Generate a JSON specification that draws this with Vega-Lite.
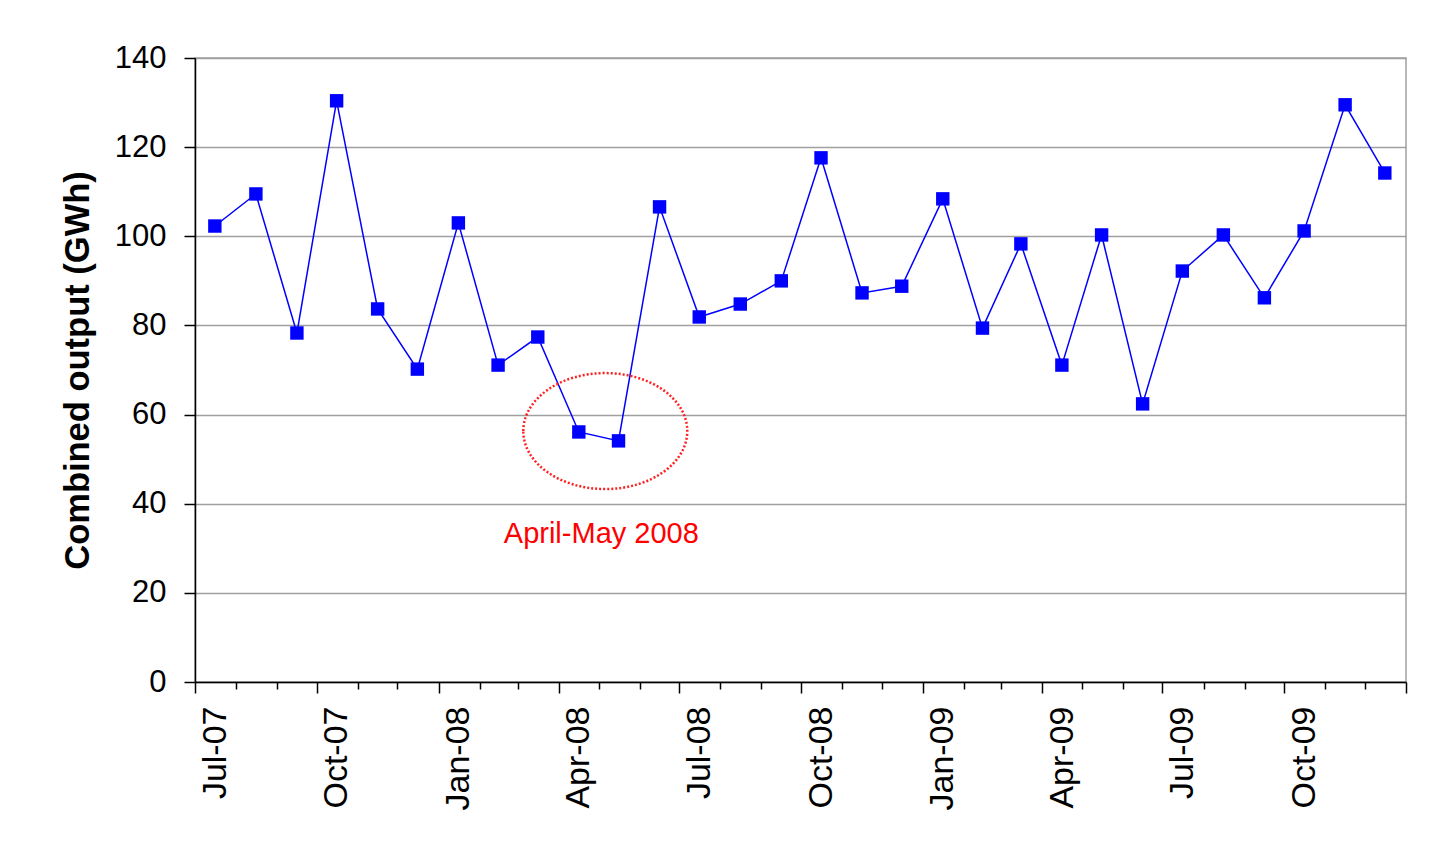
{
  "$schema": "https://vega.github.io/schema/vega-lite/v6.json",
  "width": 1211,
  "height": 624,
  "autosize": {"type": "none"},
  "padding": {"left": 195, "top": 58, "right": 37, "bottom": 166},
  "background": "white",
  "config": {
    "font": "Liberation Sans",
    "view": {"stroke": "#a0a0a0", "strokeWidth": 1.5},
    "axis": {
      "labelFont": "Liberation Sans",
      "titleFont": "Liberation Sans",
      "labelColor": "black",
      "titleColor": "black",
      "domainColor": "black",
      "tickColor": "black",
      "domainWidth": 1.5,
      "tickWidth": 1.5,
      "gridColor": "#a0a0a0",
      "gridWidth": 1.5
    }
  },
  "layer": [
    {
      "data": {
        "values": [
          {"date": "2007-07-16", "value": 102.3},
          {"date": "2007-08-16", "value": 109.5},
          {"date": "2007-09-16", "value": 78.3},
          {"date": "2007-10-16", "value": 130.4},
          {"date": "2007-11-16", "value": 83.7},
          {"date": "2007-12-16", "value": 70.2},
          {"date": "2008-01-16", "value": 103.0},
          {"date": "2008-02-15", "value": 71.1},
          {"date": "2008-03-16", "value": 77.4},
          {"date": "2008-04-16", "value": 56.1},
          {"date": "2008-05-16", "value": 54.1},
          {"date": "2008-06-16", "value": 106.6},
          {"date": "2008-07-16", "value": 81.9},
          {"date": "2008-08-16", "value": 84.8},
          {"date": "2008-09-16", "value": 90.0},
          {"date": "2008-10-16", "value": 117.6},
          {"date": "2008-11-16", "value": 87.3},
          {"date": "2008-12-16", "value": 88.8},
          {"date": "2009-01-16", "value": 108.4},
          {"date": "2009-02-15", "value": 79.4},
          {"date": "2009-03-16", "value": 98.3},
          {"date": "2009-04-16", "value": 71.1},
          {"date": "2009-05-16", "value": 100.3},
          {"date": "2009-06-16", "value": 62.4},
          {"date": "2009-07-16", "value": 92.2},
          {"date": "2009-08-16", "value": 100.3},
          {"date": "2009-09-16", "value": 86.2},
          {"date": "2009-10-16", "value": 101.2},
          {"date": "2009-11-16", "value": 129.5},
          {"date": "2009-12-16", "value": 114.2}
        ]
      },
      "mark": {
        "type": "line",
        "color": "#0000ff",
        "strokeWidth": 1.5,
        "point": {"shape": "square", "size": 180, "filled": true, "color": "#0000ff", "opacity": 1}
      },
      "encoding": {
        "x": {
          "field": "date",
          "type": "temporal",
          "scale": {
            "type": "utc",
            "domain": [
              {"year": 2007, "month": 7, "date": 1, "utc": true},
              {"year": 2010, "month": 1, "date": 1, "utc": true}
            ]
          },
          "axis": {
            "title": null,
            "grid": false,
            "tickCount": {"interval": "month", "step": 1},
            "labelExpr": "utcmonth(datum.value) % 3 == 0 && utcyear(datum.value) < 2010 ? utcFormat(datum.value, '%b-%y') : ''",
            "labelAngle": -90,
            "labelOffset": 20,
            "labelFontSize": 34,
            "labelOverlap": false,
            "labelFlush": false,
            "labelBound": false,
            "labelPadding": 13,
            "tickSize": {"condition": {"test": "utcmonth(datum.value) % 3 == 0", "value": 11}, "value": 7}
          }
        },
        "y": {
          "field": "value",
          "type": "quantitative",
          "scale": {"domain": [0, 140], "nice": false},
          "axis": {
            "title": "Combined output (GWh)",
            "titleFontSize": 34.5,
            "titleFontWeight": "bold",
            "titlePadding": 19,
            "values": [0, 20, 40, 60, 80, 100, 120, 140],
            "labelFontSize": 31,
            "tickSize": 11,
            "labelPadding": 18,
            "grid": true
          }
        }
      }
    },
    {
      "data": {"values": [{"date": "2008-05-06", "value": 56.3}]},
      "mark": {
        "type": "point",
        "shape": "M -1 0 A 1 0.707 0 1 1 1 0 A 1 0.707 0 1 1 -1 0 Z",
        "size": 26896,
        "filled": false,
        "stroke": "#ff2020",
        "strokeWidth": 2.5,
        "strokeDash": [2, 2],
        "opacity": 1
      },
      "encoding": {
        "x": {"field": "date", "type": "temporal"},
        "y": {"field": "value", "type": "quantitative"}
      }
    },
    {
      "data": {"values": [{"date": "2008-05-03", "value": 33.2, "label": "April-May 2008"}]},
      "mark": {
        "type": "text",
        "color": "#ff0000",
        "fontSize": 29,
        "font": "Liberation Sans",
        "align": "center",
        "baseline": "middle"
      },
      "encoding": {
        "x": {"field": "date", "type": "temporal"},
        "y": {"field": "value", "type": "quantitative"},
        "text": {"field": "label"}
      }
    }
  ]
}
